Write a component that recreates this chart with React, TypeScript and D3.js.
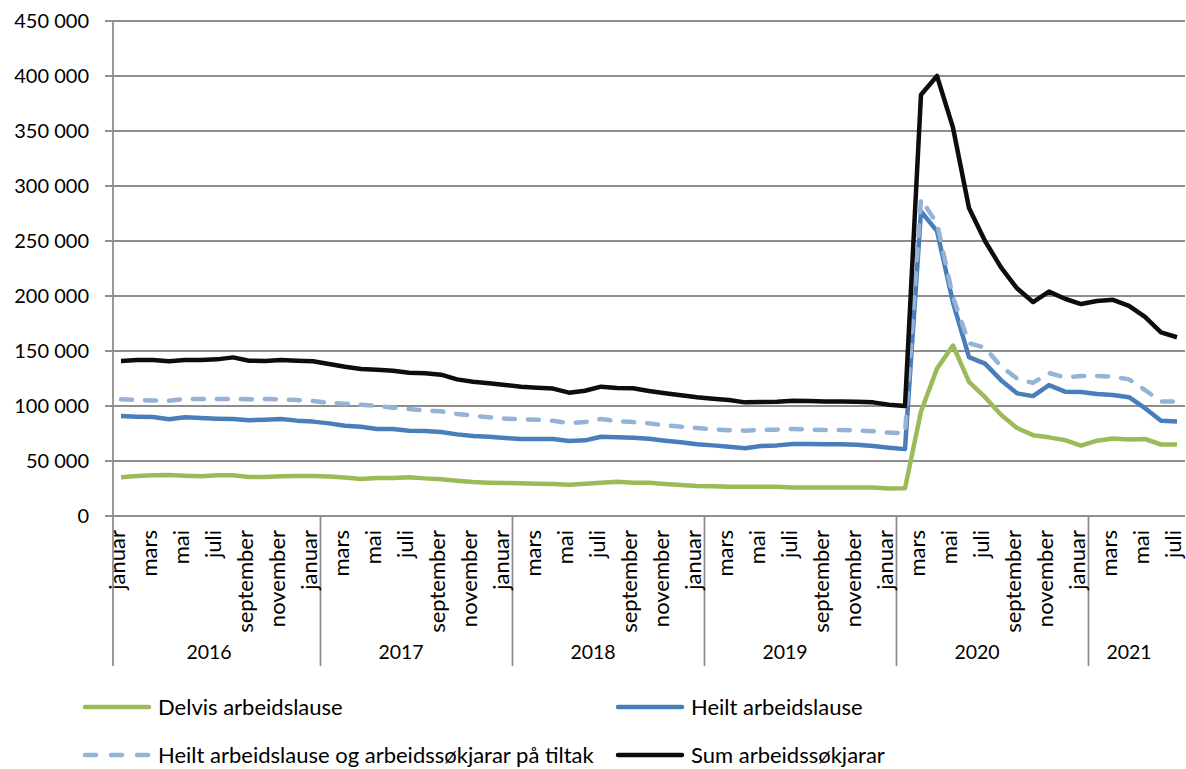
import React from "react";
import * as d3 from "d3";

const monthNames = ["januar","februar","mars","april","mai","juni","juli","august","september","oktober","november","desember"];
const years = ["2016","2017","2018","2019","2020","2021"];
const nMonths = 67; // januar 2016 – juli 2021

const delvis = [
  35200, 36400, 37000, 37300, 36700, 36100, 37000, 37000, 35500, 35500, 36100, 36400,
  36400, 35800, 34900, 33600, 34600, 34600, 35200, 34200, 33300, 32100, 30900, 30300,
  30000, 29700, 29400, 29100, 28500, 29400, 30300, 31200, 30300, 30300, 29100, 28200,
  27300, 27000, 26700, 26500, 26500, 26500, 26000, 26000, 26000, 26000, 26000, 25800,
  25000, 25200, 95000, 134000, 155000, 122000, 108000, 92000, 80000, 73500, 71500, 69000,
  64000, 68500, 70500, 69500, 70000, 65000, 65000,
];
const heilt = [
  90900, 90300, 90000, 87900, 89700, 89100, 88500, 88200, 87000, 87600, 88200, 86700,
  85800, 84200, 82100, 81200, 79100, 79100, 77600, 77300, 76400, 74200, 72700, 72100,
  70900, 70000, 70000, 70000, 68200, 68800, 72100, 71500, 71200, 70300, 68500, 67000,
  65200, 64200, 63000, 61500, 63600, 64200, 65500, 65500, 65200, 65200, 64800, 63600,
  62100, 60800, 277000, 259000, 194000, 144500, 138500, 123500, 111500, 109000, 119000, 113000,
  112700, 111000, 110000, 108000, 98000, 86500, 86000,
];
const heiltTiltak = [
  106100, 105400, 105100, 104800, 106400, 106400, 106400, 106400, 106100, 106400, 106100, 105400,
  104500, 103000, 102100, 101200, 100000, 98500, 97300, 95800, 95200, 92700, 91200, 89700,
  88500, 87900, 87500, 86600, 84500, 85400, 88200, 86100, 85400, 84200, 82400, 81200,
  80000, 78800, 77900, 77600, 78200, 78500, 79100, 78500, 78200, 78200, 77900, 77000,
  75800, 75000, 288000, 266000, 199000, 157000, 153000, 136000, 125000, 121000, 130000, 126000,
  127300, 127300, 126700, 124200, 114500, 104000, 104000,
];
const sum = [
  140900, 141800, 141800, 140600, 141800, 141800, 142400, 144200, 141200, 141000, 141800, 141200,
  140600, 138200, 135700, 133600, 133000, 132100, 130300, 129700, 128500, 124200, 122100, 120600,
  119100, 117600, 116700, 115800, 112100, 113900, 117600, 116400, 116100, 113600, 111500, 109700,
  107900, 106500, 105400, 103300, 103600, 103900, 104800, 104500, 104200, 104200, 103900, 103300,
  101200, 100000, 383000, 400000, 353000, 280000, 250000, 226000, 207000, 194500, 204000, 197500,
  192700, 195500, 196500, 191000, 181000, 167000, 162500,
];
const yTicks = [0, 50000, 100000, 150000, 200000, 250000, 300000, 350000, 400000, 450000];

const seriesNames = [
  "Delvis arbeidslause",
  "Heilt arbeidslause",
  "Heilt arbeidslause og arbeidssøkjarar på tiltak",
  "Sum arbeidssøkjarar",
];

export default function App() {
  const W = 1186, H = 769;
  const left = 113, right = 1185, top = 21, bottom = 516;
  const idx = d3.range(nMonths);
  const x = d3.scaleBand<number>().domain(idx).range([left, right]).paddingInner(0).paddingOuter(0);
  const bw = x.bandwidth();
  const cx = (i: number) => (x(i) as number) + bw / 2;
  const y = d3.scaleLinear().domain([0, 450000]).range([bottom, top]);
  const fmt = d3.formatLocale({ decimal: ",", thousands: " ", grouping: [3], currency: ["", ""] }).format(",");
  const font = "Lato, 'Open Sans', sans-serif";
  const grid = "#8e8e8e";

  const line = d3.line<number>().x((_, i) => cx(i)).y((d) => y(d));

  const series = [
    { name: seriesNames[0], data: delvis, color: "#9bbb59", dash: null },
    { name: seriesNames[1], data: heilt, color: "#4a7ebb", dash: null },
    { name: seriesNames[2], data: heiltTiltak, color: "#95b3d7", dash: "11 13" },
    { name: seriesNames[3], data: sum, color: "#0d0d0d", dash: null },
  ];

  const sepBottom = 666;
  const separators = years.slice(1).map((_, k) => (x(12 * (k + 1) + 1) as number) - 0.5);

  const legendPos = [
    { lx: 82, ty: 707 },
    { lx: 615, ty: 707 },
    { lx: 82, ty: 755 },
    { lx: 615, ty: 755 },
  ];

  return (
    <svg width={W} height={H} style={{ position: "absolute", left: 0, top: 0, background: "#fff" }} fontFamily={font}>
      <rect x={0} y={0} width={W} height={H} fill="#fff" />
      {yTicks.map((t) => (
        <g key={t}>
          <line x1={105} x2={right} y1={y(t)} y2={y(t)} stroke={grid} strokeWidth={1.8} />
          <text x={89} y={y(t)} dy="0.35em" textAnchor="end" fontSize={20} fill="#000">{fmt(t)}</text>
        </g>
      ))}
      <line x1={left} x2={left} y1={top} y2={sepBottom} stroke={grid} strokeWidth={1.8} />
      {separators.map((sx, k) => (
        <line key={k} x1={sx} x2={sx} y1={bottom} y2={sepBottom} stroke={grid} strokeWidth={1.8} />
      ))}
      {idx.filter((i) => i % 2 === 0).map((i) => (
        <text key={i} transform={`translate(${cx(i) - 2},530) rotate(-90)`} dy="0.25em" textAnchor="end" fontSize={22} fill="#000">
          {monthNames[i % 12]}
        </text>
      ))}
      {years.map((yr, k) => {
        const ms = idx.filter((i) => Math.floor(i / 12) === k);
        const mid = (cx(ms[0]) + cx(ms[ms.length - 1])) / 2;
        return (
          <text key={yr} x={mid} y={659} textAnchor="middle" fontSize={19.5} fill="#000">{yr}</text>
        );
      })}
      {series.map((s) => (
        <path key={s.name} d={line(s.data) as string} fill="none" stroke={s.color} strokeWidth={4.5}
          strokeLinejoin="round" strokeLinecap={s.dash ? "round" : "butt"} strokeDasharray={s.dash || undefined} />
      ))}
      {series.map((s, k) => {
        const p = legendPos[k];
        return (
          <g key={s.name}>
            <line x1={p.lx + 3} x2={p.lx + 67} y1={p.ty} y2={p.ty} stroke={s.color} strokeWidth={4.5}
              strokeLinecap="round" strokeDasharray={s.dash ? "11 15" : undefined} />
            <text x={p.lx + 76} y={p.ty} dy="0.35em" fontSize={22} fill="#000">{s.name}</text>
          </g>
        );
      })}
    </svg>
  );
}
